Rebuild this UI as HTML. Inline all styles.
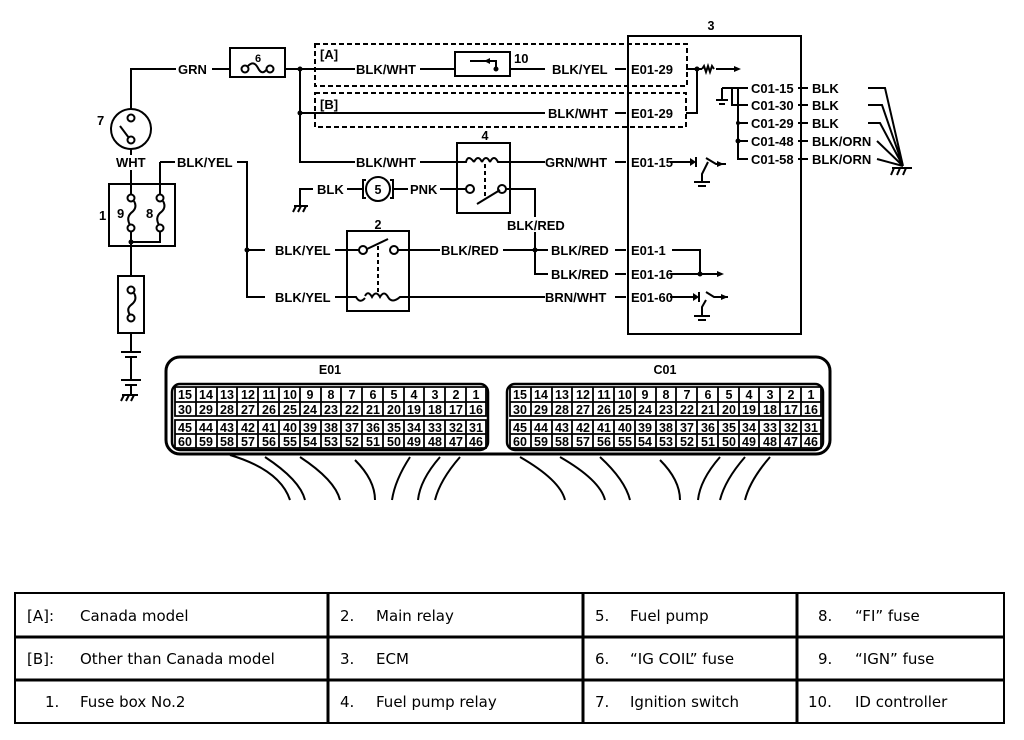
<!DOCTYPE html>
<html><head><meta charset="utf-8"><style>
html,body{margin:0;padding:0;background:#fff;width:1024px;height:740px;overflow:hidden}
svg{display:block}
.l{font-family:"Liberation Sans",sans-serif;font-weight:bold;font-size:13px;fill:#000}
.n{font-family:"Liberation Sans",sans-serif;font-weight:bold;font-size:12.5px;fill:#000;text-anchor:middle}
.t{font-family:"DejaVu Sans","Liberation Sans",sans-serif;font-size:15px;fill:#000}
</style></head><body>
<svg width="1024" height="740" viewBox="0 0 1024 740" xmlns="http://www.w3.org/2000/svg">
<g stroke="#000" stroke-width="2" fill="none">
<rect x="628" y="36" width="173" height="298"/>
<rect x="315" y="44" width="372" height="42" stroke-dasharray="5,3"/>
<rect x="315" y="93" width="371" height="34" stroke-dasharray="5,3"/>
<path d="M131 109 V69 H176 M212 69 H230 M285 69 H355 M420 69 H455 M510 69 H545 M615 69 H626"/>
<path d="M300 69 V162 H355 M420 162 H457"/>
<path d="M300 113 H545 M615 113 H626"/>
<rect x="230" y="48" width="55" height="29"/>
<circle cx="245" cy="69" r="3.5"/><circle cx="270" cy="69" r="3.5"/>
<path d="M248 66 Q254 60 258 68 T267 69"/>
<rect x="455" y="52" width="55" height="24"/>
<path d="M496 69 V61 H470"/>
<path d="M686 69 H697 V113 H686 M697 69 H702 M716 69 H735"/>
<path d="M702 69 l2 -3 l2 6 l2 -6 l2 6 l2 -6 l2 3"/>
<rect x="457" y="143" width="53" height="70"/>
<path d="M457 162 H466 Q468 154 474 162 M474 162 Q478 154 482 162 M482 162 Q486 154 490 162 M490 162 Q494 154 498 162 H510 V162 H545 M615 162 H626"/>
<path d="M485 164 V196" stroke-dasharray="4,3"/>
<circle cx="470" cy="189" r="4"/><circle cx="502" cy="189" r="4"/>
<path d="M477 204 L500 190"/>
<path d="M506 189 H535 V217 M535 232 V274 H548"/>
<path d="M440 189 H466"/>
<circle cx="378" cy="189" r="12"/>
<path d="M366 180 h-3 v18 h3 M390 180 h3 v18 h-3"/>
<path d="M347 189 H363 M393 189 H408"/>
<path d="M313 189 H300 V206 M294 206 h14 M296 206 l-3 6 M301 206 l-3 6 M306 206 l-3 6"/>
<circle cx="131" cy="129" r="20"/>
<circle cx="131" cy="118" r="3.5"/><circle cx="131" cy="140" r="3.5"/>
<path d="M120 126 L129 138"/>
<path d="M131 149 V155 M131 170 V184"/>
<rect x="109" y="184" width="66" height="62"/>
<circle cx="131" cy="198" r="3.5"/><circle cx="131" cy="228" r="3.5"/>
<circle cx="160" cy="198" r="3.5"/><circle cx="160" cy="228" r="3.5"/>
<path d="M131 184 V194 M131 232 V276 M160 232 V242 H131 M160 162 V194"/>
<path d="M134 201 Q138 208 131 213 Q126 218 130 225"/>
<path d="M163 201 Q167 208 160 213 Q155 218 159 225"/>
<path d="M160 162 H175 M237 162 H247 V297 H265 M247 250 H265"/>
<rect x="118" y="276" width="26" height="57"/>
<circle cx="131" cy="290" r="3.5"/><circle cx="131" cy="318" r="3.5"/>
<path d="M134 293 Q138 300 131 305 Q126 309 130 315"/>
<path d="M131 333 V352 M121 352 h20 M125 357 h12 M131 357 V380 M121 380 h20 M125 385 h12 M131 385 V395 M122 395 h16 M124 395 l-3 6 M129 395 l-3 6 M134 395 l-3 6"/>
<rect x="347" y="231" width="62" height="80"/>
<circle cx="363" cy="250" r="4"/><circle cx="394" cy="250" r="4"/>
<path d="M367 249 L388 239"/>
<path d="M378 246 V294" stroke-dasharray="4,3"/>
<path d="M335 250 H359 M398 250 H440 M503 250 H548"/>
<path d="M335 297 H356 Q360 304 365 298 M365 296 Q368 290 372 297 Q376 290 380 297 Q384 290 388 297 Q392 304 400 297 H409 H545 M615 297 H626"/>
<path d="M615 250 H626 M615 274 H626"/>
<path d="M672 250 H700 V274 M670 274 H720"/>
<path d="M670 162 H690 M696 157 V167 M706 158 L716 164 H726 M708 162 L702 174 V182 M694 182 h16 M698 186 h8"/>
<path d="M670 297 H693 M699 292 V302 M706 292 L714 297 H728 M706 300 L702 307 V316 M694 316 h16 M698 320 h8"/>
<path d="M722 88 V100 M716 100 h12 M719 104 h6 M722 88 H748 M732 88 V105 H748 M738 88 V123 M738 123 H748 M738 141 H748 M738 123 V159 H748"/>
<path d="M798 88 H808 M798 105 H808 M798 123 H808 M798 141 H808 M798 159 H808"/>
<path d="M868 88 H885 L903 166 M868 105 H882 L903 166 M868 123 H880 L903 166 M877 141 L903 166 M877 159 L903 166"/>
<path d="M892 168 h20 M894 168 l-3 7 M900 168 l-3 7 M906 168 l-3 7"/>
<path d="M230 455 Q280 470 290 500 M265 457 Q300 480 305 500 M300 457 Q335 480 340 500 M355 460 Q375 480 375 500 M410 457 Q395 480 392 500 M440 457 Q420 480 418 500 M460 457 Q440 480 435 500"/>
<path d="M520 457 Q560 480 565 500 M560 457 Q600 480 605 500 M600 457 Q625 480 630 500 M660 460 Q680 480 680 500 M720 457 Q700 480 698 500 M745 457 Q725 480 720 500 M770 457 Q750 480 745 500"/>
</g>
<g stroke="#000" fill="none">
<rect x="166" y="357" width="664" height="97" rx="14" stroke-width="3"/>
<rect x="172" y="384" width="316" height="66" rx="8" stroke-width="2.5"/>
<rect x="507" y="384" width="316" height="66" rx="8" stroke-width="2.5"/>
</g>
<g fill="#000">
<circle cx="300" cy="69" r="2.5"/><circle cx="300" cy="113" r="2.5"/><circle cx="697" cy="69" r="2.5"/>
<circle cx="247" cy="250" r="2.5"/><circle cx="535" cy="250" r="2.5"/><circle cx="131" cy="242" r="2.5"/>
<circle cx="700" cy="274" r="2.5"/><circle cx="738" cy="141" r="2.5"/><circle cx="738" cy="123" r="2"/>
<path d="M490 58 l-6 3 l6 3z M496 69 m-2.5 0 a2.5 2.5 0 1 0 5 0 a2.5 2.5 0 1 0 -5 0"/>
<path d="M741 69 l-7 -3 v6z M724 164 l-7 -3 v6z M728 297 l-7 -3 v6z M724 274 l-7 -3 v6z M696 162 l-6 -4 v8z M699 297 l-6 -4 v8z"/>
</g>
<g stroke="#000" stroke-width="1.8" fill="none">
<path d="M175 387 H486 V416 H175Z M175 402 H486 M175 420 H486 V448 H175Z M175 434 H486"/>
<path d="M196 387 V416 M217 387 V416 M237 387 V416 M258 387 V416 M279 387 V416 M300 387 V416 M321 387 V416 M341 387 V416 M362 387 V416 M383 387 V416 M404 387 V416 M424 387 V416 M445 387 V416 M466 387 V416"/>
<path d="M196 420 V448 M217 420 V448 M237 420 V448 M258 420 V448 M279 420 V448 M300 420 V448 M321 420 V448 M341 420 V448 M362 420 V448 M383 420 V448 M404 420 V448 M424 420 V448 M445 420 V448 M466 420 V448"/>
<path d="M510 387 H821 V416 H510Z M510 402 H821 M510 420 H821 V448 H510Z M510 434 H821"/>
<path d="M531 387 V416 M552 387 V416 M572 387 V416 M593 387 V416 M614 387 V416 M635 387 V416 M656 387 V416 M676 387 V416 M697 387 V416 M718 387 V416 M739 387 V416 M759 387 V416 M780 387 V416 M801 387 V416"/>
<path d="M531 420 V448 M552 420 V448 M572 420 V448 M593 420 V448 M614 420 V448 M635 420 V448 M656 420 V448 M676 420 V448 M697 420 V448 M718 420 V448 M739 420 V448 M759 420 V448 M780 420 V448 M801 420 V448"/>
</g>
<text class="l" x="178" y="74">GRN</text>
<text class="n" x="258" y="62" style="font-size:11px">6</text>
<text class="l" x="320" y="59">[A]</text>
<text class="l" x="356" y="74">BLK/WHT</text>
<text class="l" x="514" y="63">10</text>
<text class="l" x="552" y="74">BLK/YEL</text>
<text class="l" x="631" y="74">E01-29</text>
<text class="l" x="320" y="109">[B]</text>
<text class="l" x="548" y="118">BLK/WHT</text>
<text class="l" x="631" y="118">E01-29</text>
<text class="n" x="711" y="30">3</text>
<text class="n" x="485" y="140">4</text>
<text class="l" x="356" y="167">BLK/WHT</text>
<text class="l" x="545" y="167">GRN/WHT</text>
<text class="l" x="631" y="167">E01-15</text>
<text class="l" x="317" y="194">BLK</text>
<text class="n" x="378" y="194">5</text>
<text class="l" x="410" y="194">PNK</text>
<text class="l" x="507" y="230">BLK/RED</text>
<text class="n" x="378" y="229">2</text>
<text class="l" x="275" y="255">BLK/YEL</text>
<text class="l" x="275" y="302">BLK/YEL</text>
<text class="l" x="441" y="255">BLK/RED</text>
<text class="l" x="551" y="255">BLK/RED</text>
<text class="l" x="551" y="279">BLK/RED</text>
<text class="l" x="545" y="302">BRN/WHT</text>
<text class="l" x="631" y="255">E01-1</text>
<text class="l" x="631" y="279">E01-16</text>
<text class="l" x="631" y="302">E01-60</text>
<text class="l" x="116" y="167">WHT</text>
<text class="l" x="177" y="167">BLK/YEL</text>
<text class="l" x="97" y="125">7</text>
<text class="l" x="99" y="220">1</text>
<text class="l" x="117" y="218">9</text>
<text class="l" x="146" y="218">8</text>
<text class="l" x="751" y="93">C01-15</text>
<text class="l" x="751" y="110">C01-30</text>
<text class="l" x="751" y="128">C01-29</text>
<text class="l" x="751" y="146">C01-48</text>
<text class="l" x="751" y="164">C01-58</text>
<text class="l" x="812" y="93">BLK</text>
<text class="l" x="812" y="110">BLK</text>
<text class="l" x="812" y="128">BLK</text>
<text class="l" x="812" y="146">BLK/ORN</text>
<text class="l" x="812" y="164">BLK/ORN</text>
<text class="n" x="330" y="374">E01</text>
<text class="n" x="665" y="374">C01</text>
<g>
<text class="n" x="185" y="399">15</text><text class="n" x="206" y="399">14</text><text class="n" x="227" y="399">13</text><text class="n" x="248" y="399">12</text><text class="n" x="269" y="399">11</text><text class="n" x="290" y="399">10</text><text class="n" x="310" y="399">9</text><text class="n" x="331" y="399">8</text><text class="n" x="352" y="399">7</text><text class="n" x="373" y="399">6</text><text class="n" x="394" y="399">5</text><text class="n" x="414" y="399">4</text><text class="n" x="435" y="399">3</text><text class="n" x="456" y="399">2</text><text class="n" x="476" y="399">1</text>
<text class="n" x="185" y="414">30</text><text class="n" x="206" y="414">29</text><text class="n" x="227" y="414">28</text><text class="n" x="248" y="414">27</text><text class="n" x="269" y="414">26</text><text class="n" x="290" y="414">25</text><text class="n" x="310" y="414">24</text><text class="n" x="331" y="414">23</text><text class="n" x="352" y="414">22</text><text class="n" x="373" y="414">21</text><text class="n" x="394" y="414">20</text><text class="n" x="414" y="414">19</text><text class="n" x="435" y="414">18</text><text class="n" x="456" y="414">17</text><text class="n" x="476" y="414">16</text>
<text class="n" x="185" y="432">45</text><text class="n" x="206" y="432">44</text><text class="n" x="227" y="432">43</text><text class="n" x="248" y="432">42</text><text class="n" x="269" y="432">41</text><text class="n" x="290" y="432">40</text><text class="n" x="310" y="432">39</text><text class="n" x="331" y="432">38</text><text class="n" x="352" y="432">37</text><text class="n" x="373" y="432">36</text><text class="n" x="394" y="432">35</text><text class="n" x="414" y="432">34</text><text class="n" x="435" y="432">33</text><text class="n" x="456" y="432">32</text><text class="n" x="476" y="432">31</text>
<text class="n" x="185" y="446">60</text><text class="n" x="206" y="446">59</text><text class="n" x="227" y="446">58</text><text class="n" x="248" y="446">57</text><text class="n" x="269" y="446">56</text><text class="n" x="290" y="446">55</text><text class="n" x="310" y="446">54</text><text class="n" x="331" y="446">53</text><text class="n" x="352" y="446">52</text><text class="n" x="373" y="446">51</text><text class="n" x="394" y="446">50</text><text class="n" x="414" y="446">49</text><text class="n" x="435" y="446">48</text><text class="n" x="456" y="446">47</text><text class="n" x="476" y="446">46</text>
<text class="n" x="520" y="399">15</text><text class="n" x="541" y="399">14</text><text class="n" x="562" y="399">13</text><text class="n" x="583" y="399">12</text><text class="n" x="604" y="399">11</text><text class="n" x="625" y="399">10</text><text class="n" x="645" y="399">9</text><text class="n" x="666" y="399">8</text><text class="n" x="687" y="399">7</text><text class="n" x="708" y="399">6</text><text class="n" x="729" y="399">5</text><text class="n" x="749" y="399">4</text><text class="n" x="770" y="399">3</text><text class="n" x="791" y="399">2</text><text class="n" x="811" y="399">1</text>
<text class="n" x="520" y="414">30</text><text class="n" x="541" y="414">29</text><text class="n" x="562" y="414">28</text><text class="n" x="583" y="414">27</text><text class="n" x="604" y="414">26</text><text class="n" x="625" y="414">25</text><text class="n" x="645" y="414">24</text><text class="n" x="666" y="414">23</text><text class="n" x="687" y="414">22</text><text class="n" x="708" y="414">21</text><text class="n" x="729" y="414">20</text><text class="n" x="749" y="414">19</text><text class="n" x="770" y="414">18</text><text class="n" x="791" y="414">17</text><text class="n" x="811" y="414">16</text>
<text class="n" x="520" y="432">45</text><text class="n" x="541" y="432">44</text><text class="n" x="562" y="432">43</text><text class="n" x="583" y="432">42</text><text class="n" x="604" y="432">41</text><text class="n" x="625" y="432">40</text><text class="n" x="645" y="432">39</text><text class="n" x="666" y="432">38</text><text class="n" x="687" y="432">37</text><text class="n" x="708" y="432">36</text><text class="n" x="729" y="432">35</text><text class="n" x="749" y="432">34</text><text class="n" x="770" y="432">33</text><text class="n" x="791" y="432">32</text><text class="n" x="811" y="432">31</text>
<text class="n" x="520" y="446">60</text><text class="n" x="541" y="446">59</text><text class="n" x="562" y="446">58</text><text class="n" x="583" y="446">57</text><text class="n" x="604" y="446">56</text><text class="n" x="625" y="446">55</text><text class="n" x="645" y="446">54</text><text class="n" x="666" y="446">53</text><text class="n" x="687" y="446">52</text><text class="n" x="708" y="446">51</text><text class="n" x="729" y="446">50</text><text class="n" x="749" y="446">49</text><text class="n" x="770" y="446">48</text><text class="n" x="791" y="446">47</text><text class="n" x="811" y="446">46</text>
</g>
<g stroke="#000" fill="none">
<rect x="15" y="593" width="989" height="130" stroke-width="2"/>
<path d="M15 637 H1004 M15 680 H1004" stroke-width="3"/>
<path d="M328 593 V723 M583 593 V723 M797 593 V723" stroke-width="3"/>
</g>
<text class="t" x="27" y="621">[A]:</text><text class="t" x="80" y="621">Canada model</text>
<text class="t" x="27" y="664">[B]:</text><text class="t" x="80" y="664">Other than Canada model</text>
<text class="t" x="45" y="707">1.</text><text class="t" x="80" y="707">Fuse box No.2</text>
<text class="t" x="340" y="621">2.</text><text class="t" x="376" y="621">Main relay</text>
<text class="t" x="340" y="664">3.</text><text class="t" x="376" y="664">ECM</text>
<text class="t" x="340" y="707">4.</text><text class="t" x="376" y="707">Fuel pump relay</text>
<text class="t" x="595" y="621">5.</text><text class="t" x="630" y="621">Fuel pump</text>
<text class="t" x="595" y="664">6.</text><text class="t" x="630" y="664">“IG COIL” fuse</text>
<text class="t" x="595" y="707">7.</text><text class="t" x="630" y="707">Ignition switch</text>
<text class="t" x="818" y="621">8.</text><text class="t" x="855" y="621">“FI” fuse</text>
<text class="t" x="818" y="664">9.</text><text class="t" x="855" y="664">“IGN” fuse</text>
<text class="t" x="808" y="707">10.</text><text class="t" x="855" y="707">ID controller</text>
</svg>
</body></html>
